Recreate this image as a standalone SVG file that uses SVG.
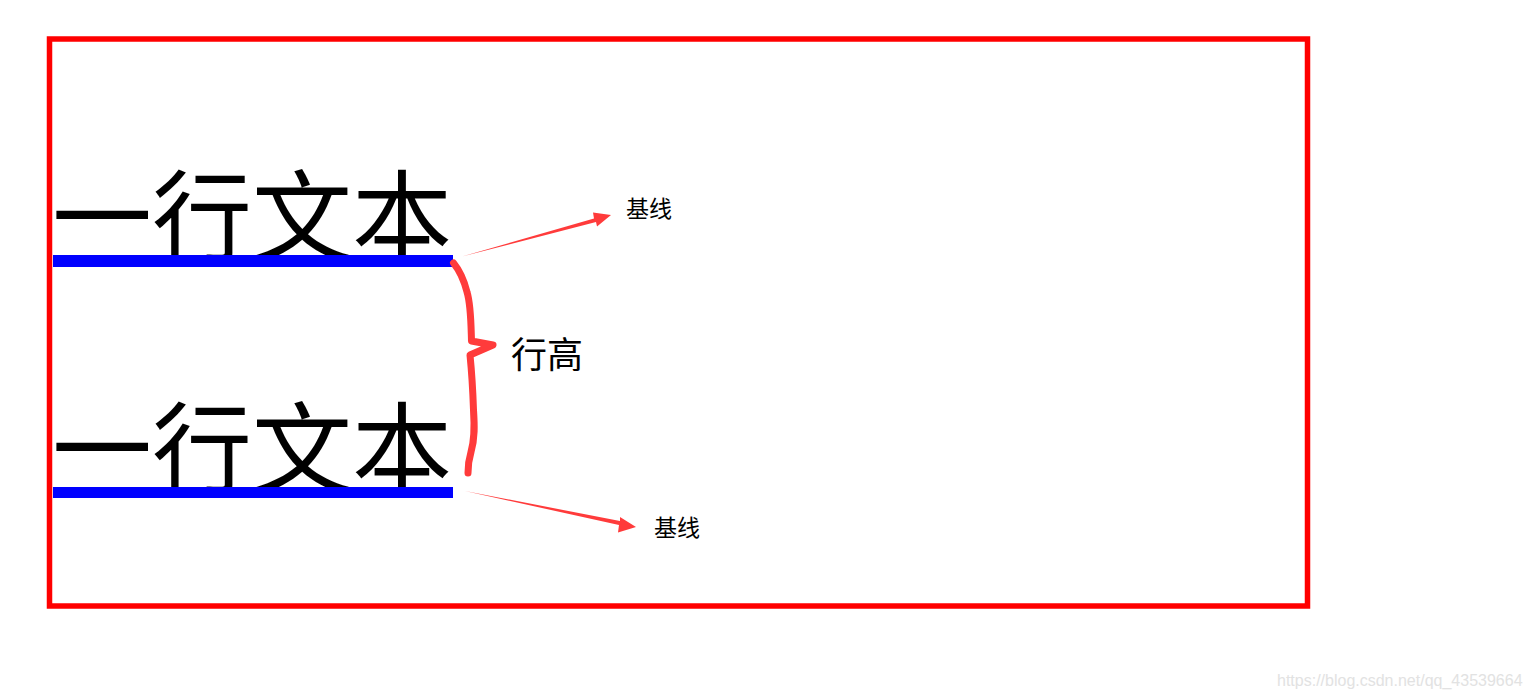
<svg xmlns="http://www.w3.org/2000/svg" width="1530" height="696" viewBox="0 0 1530 696">
<style>
.big{font-family:"Noto Sans CJK SC","Microsoft YaHei",sans-serif;font-size:100px;fill:#000}
.lbl{font-family:"Noto Sans CJK SC","Microsoft YaHei",sans-serif;fill:#000}
.base{fill:#0000ff}
.arrow{fill:#ff3b3b}
</style>
<rect width="1530" height="696" fill="#fff"/>
<g id="frame"><rect x="49.5" y="39" width="1258" height="567" fill="none" stroke="#ff0000" stroke-width="5.5"/></g>
<g id="line1">
<text class="big" x="52" y="254">一行文本</text>
<rect class="base" x="53" y="255" width="400" height="12"/>
</g>
<g id="line2">
<text class="big" x="52" y="486">一行文本</text>
<rect class="base" x="53" y="487" width="400" height="11"/>
</g>
<g id="connectors">
<polygon class="arrow" points="462,256.5 594,218.5 593,212.5 611,215 597,226.5 596,222 "/>
<polygon class="arrow" points="465,491 620,521 620,517 636,527 618,532.5 619,525"/>
<path d="M453.5,263 C460,271 464,280 467,292 C471,305 471,325 471.5,341 L493,345 L470,355 C472,375 473,395 473.5,410 C474.5,425 475,438 471,452 C468,462 468,468 468,473" fill="none" stroke="#ff3b3b" stroke-width="7" stroke-linecap="round" stroke-linejoin="round"/>
</g>
<g id="label-lineheight"><text class="lbl" x="511" y="368" font-size="36">行高</text></g>
<g id="label-baseline1"><text class="lbl" x="626" y="217" font-size="23">基线</text></g>
<g id="label-baseline2"><text class="lbl" x="654" y="536" font-size="23">基线</text></g>
<text x="1277" y="686" font-family="Liberation Sans, Arial, sans-serif" font-size="16" fill="#e2e2e2">https://blog.csdn.net/qq_43539664</text>
</svg>
